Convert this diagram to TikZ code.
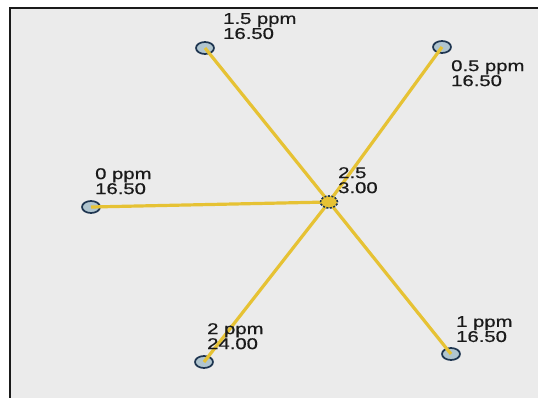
\documentclass[tikz,border=0pt]{standalone}
\usepackage{fontspec}
\newfontfamily\labfont[FakeStretch=1.3,FakeBold=0.6]{Liberation Sans}
\definecolor{bgin}{HTML}{EBEBEB}
\definecolor{frame}{HTML}{1A1A1A}
\definecolor{edgey}{HTML}{E6C234}
\definecolor{nodefill}{HTML}{9DB9C6}
\definecolor{nodeline}{HTML}{1E3550}
\definecolor{txt}{HTML}{1A1A1A}
\tikzset{
  ppmnode/.style={ellipse, draw=nodeline, line width=1.7pt, fill=nodefill, fill opacity=0.75, draw opacity=1, minimum width=18pt, minimum height=12pt, inner sep=0pt},
  hubnode/.style={ellipse, draw=nodeline, dashed, dash pattern=on 2pt off 1.5pt, line width=1.4pt, fill=edgey, minimum width=17pt, minimum height=12pt, inner sep=0pt},
  spoke/.style={draw=edgey, line width=3.2pt},
  lab/.style={anchor=north west, inner sep=0pt, align=left, text=txt, font=\labfont\fontsize{15.6}{15}\selectfont}
}
\usetikzlibrary{shapes.geometric}
\begin{document}
\begin{tikzpicture}[x=1pt,y=-1pt]
\useasboundingbox (0,0) rectangle (538,398);
\fill[white] (0,0) rectangle (538,398);
\fill[bgin] (10,8) rectangle (540,400);
\draw[frame, line width=2.6pt] (10,400) -- (10,8) -- (540,8);
% nodes
\node[hubnode] (c) at (329,202) {};
\node[ppmnode] (n15) at (205,48) {};
\node[ppmnode] (n05) at (442,47) {};
\node[ppmnode] (n0) at (91,207) {};
\node[ppmnode] (n2) at (204,362) {};
\node[ppmnode] (n1) at (451,354) {};
% spokes
\foreach \t in {n15,n05,n0,n2,n1} \draw[spoke] (c.center) -- (\t.center);
\node[hubnode, fill opacity=0.6] at (c) {};
% labels
\node[lab] (l15) at (223,13) {1.5 ppm\\16.50};
\node[lab] (l05) at (451,60) {0.5 ppm\\16.50};
\node[lab] (l0) at (95,168) {0 ppm\\16.50};
\node[lab] (lc) at (338,167) {2.5\\3.00};
\node[lab] (l2) at (207,323) {2 ppm\\24.00};
\node[lab] (l1) at (456,316) {1 ppm\\16.50};
\end{tikzpicture}
\end{document}
